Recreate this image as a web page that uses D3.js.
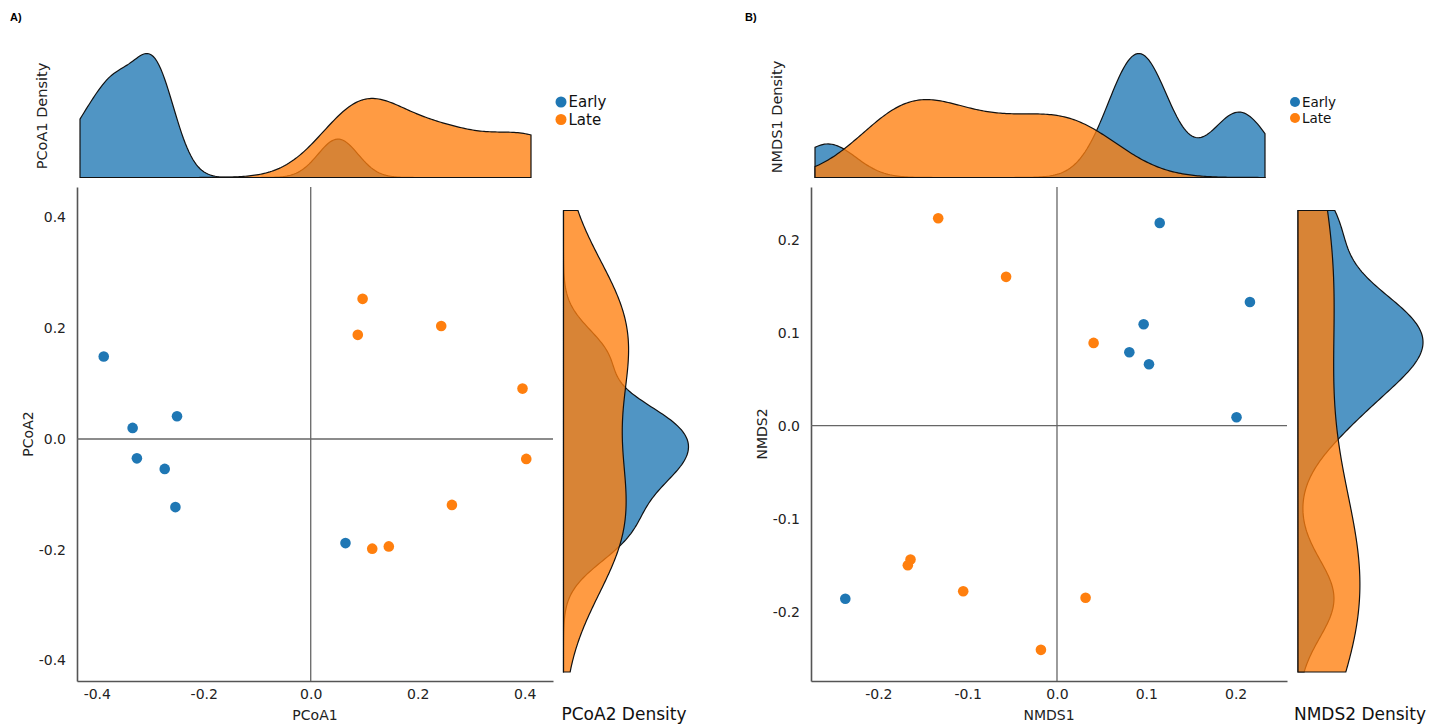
<!DOCTYPE html>
<html>
<head>
<meta charset="utf-8">
<script src="https://cdn.jsdelivr.net/npm/d3@7"></script>
<style>
  body { margin: 0; background: #fff; }
  svg { display: block; font-family: 'DejaVu Sans', sans-serif; }
</style>
</head>
<body>
<svg id="chart" width="1447" height="725"></svg>
<script>
// ---- data ----
const groups = ['Early', 'Late'];
const colors = ['#1f77b4', '#ff7f0e'];

// panel A: PCoA
const earlyPCoA1 = [-0.387, -0.333, -0.325, -0.273, -0.250, -0.253, 0.065];
const earlyPCoA2 = [0.149, 0.020, -0.035, -0.054, 0.041, -0.123, -0.188];
const latePCoA1 = [0.097, 0.088, 0.244, 0.396, 0.403, 0.264, 0.115, 0.146];
const latePCoA2 = [0.253, 0.188, 0.204, 0.091, -0.036, -0.119, -0.198, -0.194];

// panel B: NMDS
const earlyNMDS1 = [0.115, 0.216, 0.097, 0.081, 0.103, 0.201, -0.237];
const earlyNMDS2 = [0.218, 0.133, 0.109, 0.079, 0.066, 0.009, -0.186];
const lateNMDS1 = [-0.133, -0.057, 0.041, -0.164, -0.167, -0.105, 0.032, -0.018];
const lateNMDS2 = [0.223, 0.160, 0.089, -0.144, -0.150, -0.178, -0.185, -0.241];

const ticksA = [-0.4, -0.2, 0.0, 0.2, 0.4];
const ticksB = [-0.2, -0.1, 0.0, 0.1, 0.2];

// kde bandwidths per marginal (early, late)
const bwPCoA1 = [0.035, 0.07];
const bwPCoA2 = [0.05, 0.12];
const bwNMDS1 = [0.03, 0.05];
const bwNMDS2 = [0.042, 0.12];

const svg = d3.select('#chart');
const fmt = d => d.toFixed(1);

function kde(vals, bw, total, t) {
  const k = d3.sum(vals, v => Math.exp(-0.5 * ((t - v) / bw) ** 2));
  return k / (bw * Math.sqrt(2 * Math.PI)) / total;
}

function densities(sets, bws, dom) {
  const total = d3.sum(sets, s => s.length);
  const grid = d3.range(241).map(i => dom[0] + i * (dom[1] - dom[0]) / 240);
  return sets.map((s, i) => grid.map(t => ({ t, v: kde(s, bws[i], total, t) })));
}

function topDensity(sets, bws, dom, x0, x1, base, hmax) {
  const dens = densities(sets, bws, dom);
  const xs = d3.scaleLinear().domain(dom).range([x0, x1]);
  const vs = d3.scaleLinear().domain([0, d3.max(dens.flat(), d => d.v)]).range([base, base - hmax]);
  const area = d3.area().x(d => xs(d.t)).y0(base).y1(d => vs(d.v));
  svg.append('g').selectAll('path').data(dens).join('path')
    .attr('d', area)
    .attr('fill', (d, i) => colors[i]).attr('fill-opacity', 0.78)
    .attr('stroke', '#111').attr('stroke-width', 1.2);
}

function rightDensity(sets, bws, dom, y0, y1, base, wmax) {
  const dens = densities(sets, bws, dom);
  const ys = d3.scaleLinear().domain(dom).range([y0, y1]);
  const vs = d3.scaleLinear().domain([0, d3.max(dens.flat(), d => d.v)]).range([base, base + wmax]);
  const area = d3.area().y(d => ys(d.t)).x0(base).x1(d => vs(d.v));
  svg.append('g').selectAll('path').data(dens).join('path')
    .attr('d', area)
    .attr('fill', (d, i) => colors[i]).attr('fill-opacity', 0.78)
    .attr('stroke', '#111').attr('stroke-width', 1.2);
}

function scatter(p) {
  const x = d3.scaleLinear().domain(p.xdom).range([p.left, p.right]);
  const y = d3.scaleLinear().domain(p.ydom).range([p.bottom, p.top]);
  const g = svg.append('g');

  const xa = g.append('g').attr('transform', `translate(0,${p.bottom})`)
    .call(d3.axisBottom(x).tickValues(p.ticks).tickFormat(fmt).tickSize(0).tickPadding(8));
  const ya = g.append('g').attr('transform', `translate(${p.left},0)`)
    .call(d3.axisLeft(y).tickValues(p.ticks).tickFormat(fmt).tickSize(0).tickPadding(11));
  [xa, ya].forEach(a => {
    a.select('.domain').attr('stroke', '#555').attr('stroke-width', 1.6);
    a.selectAll('text').attr('font-size', 14).attr('fill', '#222')
      .attr('font-family', "'DejaVu Sans', sans-serif");
  });

  // zero lines
  g.append('line').attr('x1', x(0)).attr('x2', x(0)).attr('y1', p.top).attr('y2', p.bottom)
    .attr('stroke', '#666').attr('stroke-width', 1.3);
  g.append('line').attr('x1', p.left).attr('x2', p.right).attr('y1', y(0)).attr('y2', y(0))
    .attr('stroke', '#666').attr('stroke-width', 1.3);

  p.sets.forEach((s, i) => {
    g.append('g').selectAll('circle').data(d3.zip(s[0], s[1])).join('circle')
      .attr('cx', d => x(d[0])).attr('cy', d => y(d[1])).attr('r', 5.3)
      .attr('fill', colors[i]);
  });

  g.append('text').attr('x', (p.left + p.right) / 2).attr('y', p.bottom + 39)
    .attr('text-anchor', 'middle').attr('font-size', 14).attr('fill', '#222').text(p.xlabel);
  g.append('text').attr('transform', `translate(${p.ylabX},${(p.top + p.bottom) / 2}) rotate(-90)`)
    .attr('text-anchor', 'middle').attr('font-size', 14).attr('fill', '#222').text(p.ylabel);
}

function legend(x, y, gap, fs, r) {
  const g = svg.append('g').attr('transform', `translate(${x},${y})`);
  groups.forEach((name, i) => {
    g.append('circle').attr('cx', 0).attr('cy', i * gap).attr('r', r).attr('fill', colors[i]);
    g.append('text').attr('x', r + 2).attr('y', i * gap).attr('dy', '0.36em')
      .attr('font-size', fs).attr('fill', '#111').text(name);
  });
}

// ---- panel A ----
svg.append('text').attr('x', 10).attr('y', 21).attr('font-size', 11).attr('font-weight', 'bold')
  .attr('font-family', "'Liberation Sans', sans-serif").text('A)');
topDensity([earlyPCoA1, latePCoA1], bwPCoA1, [-0.387, 0.403], 80, 531, 177.5, 124);
rightDensity([earlyPCoA2, latePCoA2], bwPCoA2, [0.411, -0.421], 210.5, 672, 563.5, 125);
scatter({
  xdom: [-0.437, 0.453], ydom: [-0.437, 0.455], left: 77, right: 553, top: 187, bottom: 681,
  ticks: ticksA, sets: [[earlyPCoA1, earlyPCoA2], [latePCoA1, latePCoA2]],
  xlabel: 'PCoA1', ylabel: 'PCoA2', ylabX: 33
});
svg.append('text').attr('transform', 'translate(47,116) rotate(-90)').attr('text-anchor', 'middle')
  .attr('font-size', 14.5).attr('fill', '#222').text('PCoA1 Density');
svg.append('text').attr('x', 624).attr('y', 720).attr('text-anchor', 'middle')
  .attr('font-size', 17).attr('fill', '#111').text('PCoA2 Density');
legend(561, 102, 17.5, 15, 5.5);

// ---- panel B ----
svg.append('text').attr('x', 745).attr('y', 21).attr('font-size', 11).attr('font-weight', 'bold')
  .attr('font-family', "'Liberation Sans', sans-serif").text('B)');
topDensity([earlyNMDS1, lateNMDS1], bwNMDS1, [-0.251, 0.236], 815, 1265, 177.5, 124);
rightDensity([earlyNMDS2, lateNMDS2], bwNMDS2, [0.232, -0.265], 210.5, 672, 1298, 125);
scatter({
  xdom: [-0.2754, 0.2575], ydom: [-0.2745, 0.2566], left: 811, right: 1287, top: 187, bottom: 681,
  ticks: ticksB, sets: [[earlyNMDS1, earlyNMDS2], [lateNMDS1, lateNMDS2]],
  xlabel: 'NMDS1', ylabel: 'NMDS2', ylabX: 767
});
svg.append('text').attr('transform', 'translate(782,117) rotate(-90)').attr('text-anchor', 'middle')
  .attr('font-size', 14.5).attr('fill', '#222').text('NMDS1 Density');
svg.append('text').attr('x', 1360).attr('y', 720).attr('text-anchor', 'middle')
  .attr('font-size', 17).attr('fill', '#111').text('NMDS2 Density');
legend(1295, 102, 16, 13.5, 5);
</script>
</body>
</html>
